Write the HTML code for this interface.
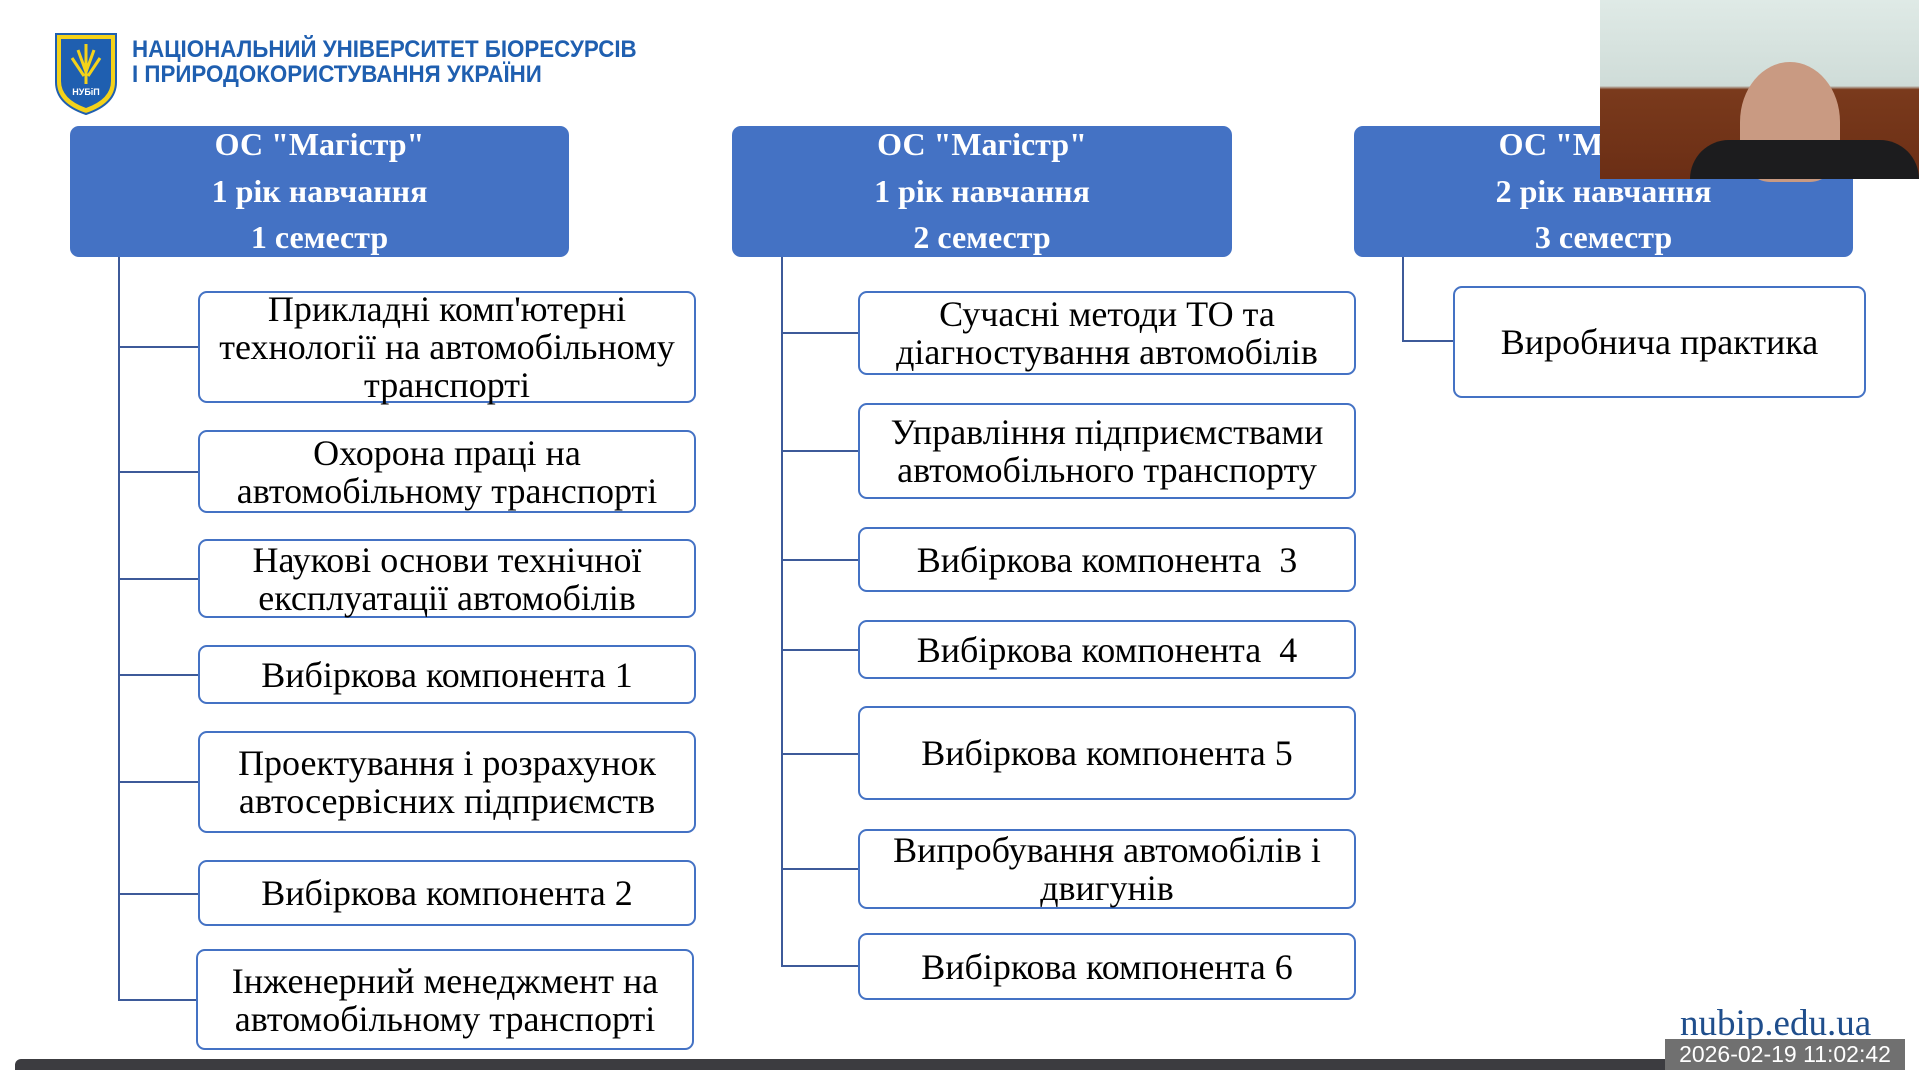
<!DOCTYPE html>
<html><head><meta charset="utf-8"><style>
body{margin:0;width:1919px;height:1070px;background:#fff;position:relative;overflow:hidden;font-family:"Liberation Serif",serif}
.h{position:absolute;background:#4472c4;border-radius:9px;color:#fff;font-weight:bold;font-size:32px;text-align:center;line-height:46.5px;padding-top:0;margin-top:0;box-sizing:border-box}
.h span{position:relative;top:-5px}
.b{position:absolute;border:2px solid #4472c4;border-radius:9px;box-sizing:border-box;display:flex;align-items:center;justify-content:center;text-align:center;font-size:36px;line-height:38px;color:#000;white-space:nowrap}
.v{position:absolute;width:2px;background:#3d5a99}
.l{position:absolute;height:2px;background:#3d5a99}
</style></head><body>
<svg style="position:absolute;left:54px;top:32px" width="64" height="84" viewBox="0 0 64 84">
<path d="M2 2 H62 V50 Q62 72 32 82 Q2 72 2 50 Z" fill="#f4d21a" stroke="#1f5fb0" stroke-width="2"/>
<path d="M7 7 H57 V49 Q57 67 32 76 Q7 67 7 49 Z" fill="#1f5fb0"/>
<path d="M32 12 V52 M24 18 L32 40 M40 18 L32 40 M18 26 L30 44 M46 26 L34 44" stroke="#f4d21a" stroke-width="3" fill="none"/>
<text x="32" y="63" font-size="9" fill="#fff" text-anchor="middle" font-family="Liberation Sans" font-weight="bold">НУБіП</text>
</svg>
<div style="position:absolute;left:132px;top:37px;color:#1f5fb0;font-family:'Liberation Sans',sans-serif;font-weight:bold;font-size:24px;line-height:25px;transform:scaleX(0.93);transform-origin:left">НАЦІОНАЛЬНИЙ УНІВЕРСИТЕТ БІОРЕСУРСІВ<br>І ПРИРОДОКОРИСТУВАННЯ УКРАЇНИ</div>

<div class="h" style="left:70px;top:126px;width:499px;height:131px"><span>ОС "Магістр"<br>1 рік навчання<br>1 семестр</span></div>
<div class="h" style="left:732px;top:126px;width:500px;height:131px"><span>ОС "Магістр"<br>1 рік навчання<br>2 семестр</span></div>
<div class="h" style="left:1354px;top:126px;width:499px;height:131px"><span>ОС "Магістр"<br>2 рік навчання<br>3 семестр</span></div>

<div class="v" style="left:118px;top:257px;height:744px"></div>
<div class="l" style="left:118px;top:346px;width:80px"></div>
<div class="l" style="left:118px;top:471px;width:80px"></div>
<div class="l" style="left:118px;top:578px;width:80px"></div>
<div class="l" style="left:118px;top:674px;width:80px"></div>
<div class="l" style="left:118px;top:781px;width:80px"></div>
<div class="l" style="left:118px;top:893px;width:80px"></div>
<div class="l" style="left:118px;top:999px;width:80px"></div>
<div class="b" style="left:198px;top:291px;width:498px;height:112px">Прикладні комп'ютерні<br>технології на автомобільному<br>транспорті</div>
<div class="b" style="left:198px;top:430px;width:498px;height:83px">Охорона праці на<br>автомобільному транспорті</div>
<div class="b" style="left:198px;top:539px;width:498px;height:79px">Наукові основи технічної<br>експлуатації автомобілів</div>
<div class="b" style="left:198px;top:645px;width:498px;height:59px">Вибіркова компонента 1</div>
<div class="b" style="left:198px;top:731px;width:498px;height:102px">Проектування і розрахунок<br>автосервісних підприємств</div>
<div class="b" style="left:198px;top:860px;width:498px;height:66px">Вибіркова компонента 2</div>
<div class="b" style="left:196px;top:949px;width:498px;height:101px">Інженерний менеджмент на<br>автомобільному транспорті</div>

<div class="v" style="left:781px;top:257px;height:710px"></div>
<div class="l" style="left:781px;top:332px;width:77px"></div>
<div class="l" style="left:781px;top:450px;width:77px"></div>
<div class="l" style="left:781px;top:559px;width:77px"></div>
<div class="l" style="left:781px;top:649px;width:77px"></div>
<div class="l" style="left:781px;top:753px;width:77px"></div>
<div class="l" style="left:781px;top:868px;width:77px"></div>
<div class="l" style="left:781px;top:965px;width:77px"></div>
<div class="b" style="left:858px;top:291px;width:498px;height:84px">Сучасні методи ТО та<br>діагностування автомобілів</div>
<div class="b" style="left:858px;top:403px;width:498px;height:96px">Управління підприємствами<br>автомобільного транспорту</div>
<div class="b" style="left:858px;top:527px;width:498px;height:65px">Вибіркова компонента&nbsp; 3</div>
<div class="b" style="left:858px;top:620px;width:498px;height:59px">Вибіркова компонента&nbsp; 4</div>
<div class="b" style="left:858px;top:706px;width:498px;height:94px">Вибіркова компонента 5</div>
<div class="b" style="left:858px;top:829px;width:498px;height:80px">Випробування автомобілів і<br>двигунів</div>
<div class="b" style="left:858px;top:933px;width:498px;height:67px">Вибіркова компонента 6</div>

<div class="v" style="left:1402px;top:257px;height:85px"></div>
<div class="l" style="left:1402px;top:340px;width:51px"></div>
<div class="b" style="left:1453px;top:286px;width:413px;height:112px">Виробнича практика</div>

<div style="position:absolute;left:1600px;top:0;width:319px;height:179px;background:linear-gradient(#dfeae6 0%,#cfdcd8 48%,#7a3a1c 50%,#6b2e15 100%)"></div>
<div style="position:absolute;left:1740px;top:62px;width:100px;height:120px;border-radius:50% 50% 30% 30%;background:#c99a82"></div>
<div style="position:absolute;left:1690px;top:140px;width:229px;height:39px;background:#1c1c1e;border-radius:40px 40px 0 0"></div>

<div style="position:absolute;left:1680px;top:1002px;font-size:37px;color:#1f4e8c">nubip.edu.ua</div>
<div style="position:absolute;left:15px;top:1059px;width:1890px;height:11px;background:#3c3c40;border-radius:6px 6px 0 0"></div>
<div style="position:absolute;left:1665px;top:1039px;width:240px;height:31px;background:#707070;color:#fff;font-family:'Liberation Sans',sans-serif;font-size:23px;line-height:31px;text-align:center">2026-02-19 11:02:42</div>
</body></html>
